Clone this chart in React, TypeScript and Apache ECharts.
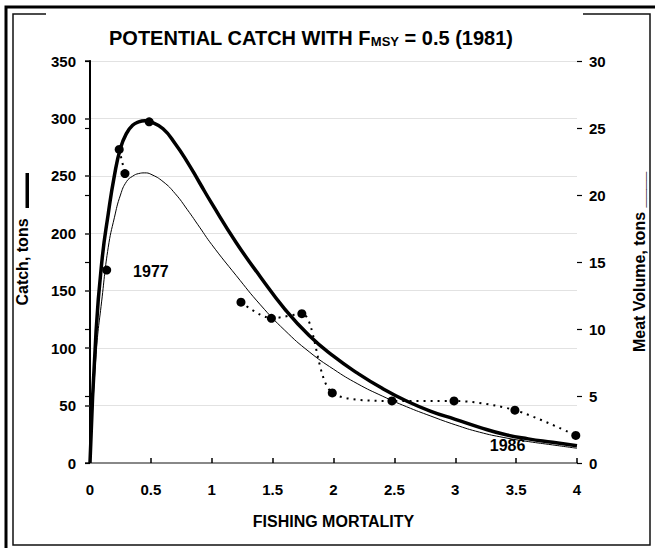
import React, { useEffect, useRef } from "react";
import * as echarts from "echarts";

// Fishing mortality grid for the model curves
const fGrid = [0, 0.05, 0.1, 0.15, 0.2, 0.25, 0.3, 0.35, 0.4, 0.45, 0.5, 0.6, 0.7, 0.8, 0.9, 1.0, 1.2, 1.4, 1.6, 1.8, 2.0, 2.2, 2.4, 2.6, 2.8, 3.0, 3.2, 3.4, 3.6, 3.8, 4.0];
// Potential catch, tons (left axis) - thick line
const catchValues = [0, 115, 178, 217, 250, 274, 287, 294, 297, 298, 297, 291, 278, 262, 244, 226, 192, 162, 134, 111, 93, 78, 65, 54, 45, 38, 31, 25, 21, 18, 15];
// Meat volume, tons (right axis) - thin line
const meatValues = [0, 8.1, 12.4, 16.1, 18.3, 20.0, 21.0, 21.4, 21.6, 21.65, 21.55, 21.0, 20.1, 18.9, 17.6, 16.3, 14.0, 11.8, 9.9, 8.3, 7.0, 5.9, 5.0, 4.2, 3.5, 2.85, 2.3, 1.9, 1.6, 1.35, 1.1];
// Observed points (fishing mortality, catch tons)
const obsF = [0.137, 0.24, 0.287, 0.486, 1.24, 1.49, 1.74, 1.99, 2.48, 2.99, 3.49, 3.99];
const obsCatch = [168, 273, 252, 297, 140, 126, 130, 61, 54, 54, 46, 24];
// Year annotations
const yearLabels = ["1977", "1986"];
const yearF = [0.5, 3.43];
const yearCatch = [167, 15];

const xTicks = { min: 0, max: 4, interval: 0.5 };
const leftTicks = { min: 0, max: 350, interval: 50 };
const rightTicks = { min: 0, max: 30, interval: 5 };

const FONT = "'Liberation Sans', Arial, sans-serif";

export default function App() {
  const ref = useRef<HTMLDivElement>(null);
  useEffect(() => {
    document.body.style.margin = "0";
    if (!ref.current) return;
    const chart = echarts.init(ref.current, undefined, { renderer: "svg" });
    const pairs = (xs: number[], ys: number[]) => xs.map((x, i) => [x, ys[i]]);
    const obs = pairs(obsF, obsCatch);
    const labelStyle = { color: "#000", fontFamily: FONT, fontWeight: "bold" as const, fontSize: 15 };
    chart.setOption({
      animation: false,
      backgroundColor: "#fff",
      textStyle: { fontFamily: FONT },
      title: {
        left: 109,
        top: 26,
        padding: 0,
        text: "{a|POTENTIAL CATCH WITH F}{s|MSY}{a| = 0.5 (1981)}",
        textStyle: {
          rich: {
            a: { fontFamily: FONT, fontWeight: "bold", fontSize: 20, color: "#000", lineHeight: 22, verticalAlign: "bottom" },
            s: { fontFamily: FONT, fontWeight: "bold", fontSize: 13, color: "#000", lineHeight: 13, verticalAlign: "bottom" },
          },
        },
      },
      grid: { left: 90, right: 77, top: 61, bottom: 85, containLabel: false },
      xAxis: [
        {
          type: "value",
          ...xTicks,
          position: "bottom",
          name: "FISHING MORTALITY",
          nameLocation: "middle",
          nameGap: 50,
          nameTextStyle: { ...labelStyle, fontSize: 16 },
          axisLine: { show: true, lineStyle: { color: "#000", width: 2 } },
          axisTick: { show: true, inside: true, length: 5, lineStyle: { color: "#000", width: 1.5 } },
          axisLabel: { ...labelStyle, margin: 19 },
          splitLine: { show: false },
        },
        {
          type: "value",
          ...xTicks,
          position: "top",
          axisLine: { show: true, lineStyle: { color: "#888", width: 2 } },
          axisTick: { show: false },
          axisLabel: { show: false },
          splitLine: { show: false },
        },
      ],
      yAxis: [
        {
          type: "value",
          ...leftTicks,
          position: "left",
          name: "Catch, tons",
          nameLocation: "middle",
          nameRotate: 90,
          nameGap: 60,
          nameTextStyle: { ...labelStyle, fontSize: 16 },
          axisLine: { show: true, lineStyle: { color: "#000", width: 2 } },
          axisTick: { show: true, inside: false, length: 5, lineStyle: { color: "#222", width: 1.5 } },
          axisLabel: { ...labelStyle, margin: 14 },
          splitLine: { show: true, lineStyle: { color: "#e2e2e2", width: 1 } },
        },
        {
          type: "value",
          ...rightTicks,
          position: "right",
          name: "Meat Volume, tons ____",
          nameLocation: "middle",
          nameRotate: 90,
          nameGap: 54,
          nameTextStyle: { ...labelStyle, fontSize: 16 },
          axisLine: { show: true, lineStyle: { color: "#000", width: 1.5 } },
          axisTick: { show: true, inside: true, length: 5, lineStyle: { color: "#000", width: 1.2 } },
          axisLabel: { ...labelStyle, margin: 12 },
          splitLine: { show: false },
        },
        {
          type: "value",
          ...rightTicks,
          position: "right",
          axisLine: { show: false },
          axisTick: { show: true, inside: false, length: 5, lineStyle: { color: "#000", width: 1.2 } },
          axisLabel: { show: false },
          splitLine: { show: false },
        },
      ],
      series: [
        {
          name: "Meat volume",
          type: "line",
          yAxisIndex: 1,
          smooth: 0.5,
          symbol: "none",
          data: pairs(fGrid, meatValues),
          lineStyle: { color: "#000", width: 1 },
          z: 2,
        },
        {
          name: "Catch",
          type: "line",
          yAxisIndex: 0,
          smooth: 0.5,
          symbol: "none",
          data: pairs(fGrid, catchValues),
          lineStyle: { color: "#000", width: 3.5 },
          z: 3,
        },
        {
          name: "Observed early",
          type: "line",
          yAxisIndex: 0,
          symbol: "none",
          data: obs.slice(1, 3),
          lineStyle: { color: "#000", width: 2, type: [2, 5] },
          z: 2,
        },
        {
          name: "Observed late",
          type: "line",
          yAxisIndex: 0,
          smooth: 0.3,
          symbol: "none",
          data: obs.slice(4),
          lineStyle: { color: "#000", width: 2, type: [2, 5] },
          z: 2,
        },
        {
          name: "Observed points",
          type: "scatter",
          yAxisIndex: 0,
          symbol: "circle",
          symbolSize: 9,
          itemStyle: { color: "#000", opacity: 1 },
          data: obs,
          z: 4,
        },
        {
          name: "Years",
          type: "scatter",
          yAxisIndex: 0,
          symbolSize: 0,
          itemStyle: { opacity: 1 },
          data: yearLabels.map((t, i) => ({ value: [yearF[i], yearCatch[i]], name: t })),
          label: { show: true, position: "inside", formatter: (p: any) => p.name, ...labelStyle, fontSize: 16 },
          z: 5,
        },
      ],
      graphic: [
        { type: "rect", shape: { x: 6, y: 7, width: 700, height: 600 }, style: { fill: "none", stroke: "#000", lineWidth: 3 }, z: 0 },
        { type: "rect", shape: { x: 13, y: 14, width: 637, height: 531 }, style: { fill: "none", stroke: "#111", lineWidth: 1.5 }, z: 0 },
        { type: "rect", shape: { x: 46, y: 11, width: 537, height: 6 }, style: { fill: "#fff" }, z: 1 },
        { type: "rect", shape: { x: 25.5, y: 173, width: 3.5, height: 35 }, style: { fill: "#000" }, z: 1 },
      ],
    });
    return () => chart.dispose();
  }, []);
  return <div ref={ref} style={{ width: 655, height: 548 }} />;
}
